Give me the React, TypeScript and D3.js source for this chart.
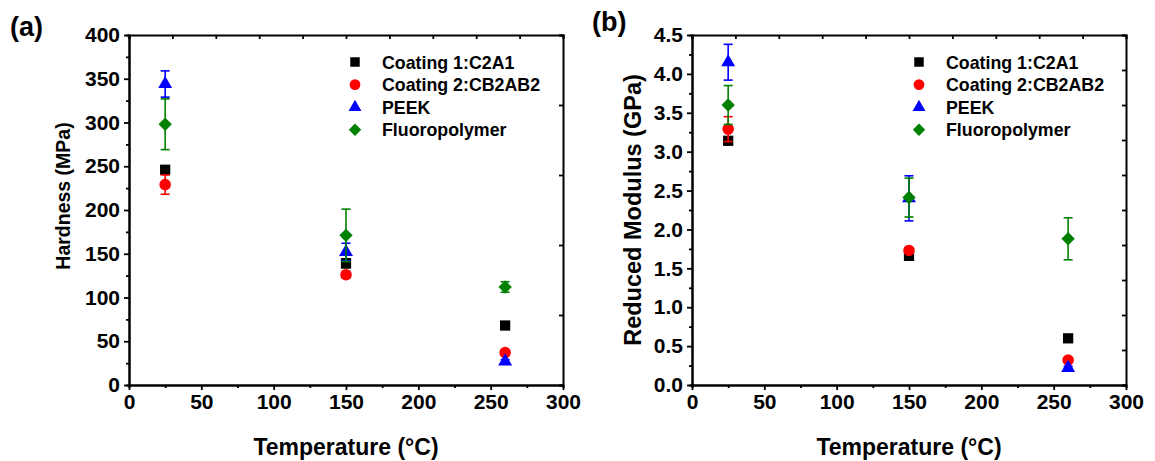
import React, { useRef, useEffect } from "react";
import * as d3 from "d3";

// temperatures (°C)
const temps = [25, 150, 260];
const seriesNames = ["Coating 1:C2A1", "Coating 2:CB2AB2", "PEEK", "Fluoropolymer"];
const seriesColors = ["#000000", "#ff0000", "#0000ff", "#008000"];

// hardness (MPa) and standard deviations
const hardC1 = [246, 139, 68];
const hardC1Err = [4, 5, 3];
const hardC2 = [229, 126, 37];
const hardC2Err = [11, 4, 3];
const hardPeek = [344, 152, 27];
const hardPeekErr = [15, 10, 2];
const hardFluoro = [298, 171, 112];
const hardFluoroErr = [29, 30, 6];

// reduced modulus (GPa) and standard deviations
const modC1 = [3.14, 1.66, 0.6];
const modC1Err = [0.05, 0.03, 0.03];
const modC2 = [3.29, 1.73, 0.32];
const modC2Err = [0.16, 0.03, 0.02];
const modPeek = [4.15, 2.4, 0.22];
const modPeekErr = [0.23, 0.29, 0.02];
const modFluoro = [3.6, 2.41, 1.88];
const modFluoroErr = [0.25, 0.25, 0.27];

const xTicks = [0, 50, 100, 150, 200, 250, 300];
const hardTicks = [0, 50, 100, 150, 200, 250, 300, 350, 400];
const modTicks = [0, 0.5, 1, 1.5, 2, 2.5, 3, 3.5, 4, 4.5];

const FONT = "'Liberation Sans', Arial, sans-serif";

function markerPath(i, size) {
  if (i === 0) return d3.symbol(d3.symbolSquare, size)();
  if (i === 1) return d3.symbol(d3.symbolCircle, size)();
  if (i === 2) return d3.symbol(d3.symbolTriangle, size * 0.8)();
  return d3.symbol(d3.symbolSquare, size * 0.85)();
}

function Panel(props) {
  const gRef = useRef(null);
  useEffect(() => {
    const g = d3.select(gRef.current);
    g.selectAll("*").remove();
    const [x0, x1, yTop, yBot] = props.box;
    const x = d3.scaleLinear().domain([0, 300]).range([x0, x1]);
    const y = d3.scaleLinear().domain([0, props.yMax]).range([yBot, yTop]);

    // minor ticks
    const minorX = d3.range(25, 300, 50);
    const minorY = d3.range(props.yStep / 2, props.yMax, props.yStep);

    g.append("g")
      .attr("transform", `translate(0,${yBot})`)
      .call(d3.axisBottom(x).tickValues(minorX).tickSize(3).tickFormat(() => ""));
    g.append("g")
      .attr("transform", `translate(${x0},0)`)
      .call(d3.axisLeft(y).tickValues(minorY).tickSize(3).tickFormat(() => ""));
    // mirrored axes
    g.append("g")
      .attr("transform", `translate(0,${yTop})`)
      .call(d3.axisTop(x).tickValues(d3.range(0, 301, 30)).tickSize(-4).tickFormat(() => ""));
    g.append("g")
      .attr("transform", `translate(${x1},0)`)
      .call(
        d3
          .axisRight(y)
          .tickValues(d3.range(0, props.rightDiv + 1).map((k) => (k * props.yMax) / props.rightDiv))
          .tickSize(-4)
          .tickFormat(() => "")
      );
    g.append("g")
      .attr("transform", `translate(0,${yBot})`)
      .call(d3.axisBottom(x).tickValues(xTicks).tickSize(5).tickPadding(4).tickSizeOuter(0));
    g.append("g")
      .attr("transform", `translate(${x0},0)`)
      .call(
        d3
          .axisLeft(y)
          .tickValues(props.yTicks)
          .tickSize(5)
          .tickPadding(4)
          .tickSizeOuter(0)
          .tickFormat(props.fmt)
      );

    g.selectAll(".domain").attr("stroke", "#000").attr("stroke-width", 2);
    g.selectAll(".tick line").attr("stroke", "#000").attr("stroke-width", 1.8);
    g.selectAll(".tick text")
      .attr("fill", "#000")
      .style("font-family", FONT)
      .style("font-weight", "bold")
      .style("font-size", "21px");

    // error bars + markers
    props.series.forEach((s, i) => {
      const c = seriesColors[i];
      temps.forEach((t, j) => {
        const cx = x(t);
        const hi = y(s.v[j] + s.e[j]);
        const lo = y(s.v[j] - s.e[j]);
        g.append("line")
          .attr("x1", cx).attr("x2", cx).attr("y1", hi).attr("y2", lo)
          .attr("stroke", c).attr("stroke-width", 1.6);
        [hi, lo].forEach((yy) => {
          g.append("line")
            .attr("x1", cx - 4.5).attr("x2", cx + 4.5).attr("y1", yy).attr("y2", yy)
            .attr("stroke", c).attr("stroke-width", 1.6);
        });
        g.append("path")
          .attr("d", markerPath(i, 105))
          .attr("transform", `translate(${cx},${y(s.v[j])})${i === 3 ? " rotate(45)" : ""}`)
          .attr("fill", c);
      });
    });

    // legend
    seriesNames.forEach((name, i) => {
      const ly = 62 + i * 22.6;
      g.append("path")
        .attr("d", markerPath(i, 90))
        .attr("transform", `translate(${props.legendX},${ly})${i === 3 ? " rotate(45)" : ""}`)
        .attr("fill", seriesColors[i]);
      g.append("text")
        .attr("x", props.legendX + 27)
        .attr("y", ly + 6.5)
        .style("font-family", FONT)
        .style("font-weight", "bold")
        .style("font-size", "17.8px")
        .text(name);
    });

    // axis titles
    g.append("text")
      .attr("x", (x0 + x1) / 2)
      .attr("y", 455)
      .attr("text-anchor", "middle")
      .style("font-family", FONT)
      .style("font-weight", "bold")
      .style("font-size", "23px")
      .text("Temperature (°C)");
    g.append("text")
      .attr("transform", `translate(${props.yLabelX},${props.yLabelY}) rotate(-90)`)
      .attr("text-anchor", "middle")
      .style("font-family", FONT)
      .style("font-weight", "bold")
      .style("font-size", props.yLabelSize + "px")
      .text(props.yLabel);
    g.append("text")
      .attr("x", props.tagX)
      .attr("y", props.tagY)
      .style("font-family", FONT)
      .style("font-weight", "bold")
      .style("font-size", "27px")
      .text(props.tag);
  }, [props]);
  return <g ref={gRef}></g>;
}

export default function App() {
  const hardSeries = [
    { v: hardC1, e: hardC1Err },
    { v: hardC2, e: hardC2Err },
    { v: hardPeek, e: hardPeekErr },
    { v: hardFluoro, e: hardFluoroErr },
  ];
  const modSeries = [
    { v: modC1, e: modC1Err },
    { v: modC2, e: modC2Err },
    { v: modPeek, e: modPeekErr },
    { v: modFluoro, e: modFluoroErr },
  ];
  return (
    <svg
      width={1155}
      height={461}
      style={{ position: "absolute", left: 0, top: 0, background: "#fff" }}
    >
      <Panel
        box={[129, 563, 35, 385]}
        yMax={400}
        yStep={50}
        rightDiv={5}
        yTicks={hardTicks}
        fmt={(d) => String(d)}
        series={hardSeries}
        legendX={355}
        yLabel="Hardness (MPa)"
        yLabelX={70}
        yLabelY={196}
        yLabelSize={19.5}
        tag="(a)"
        tagX={10}
        tagY={36}
      />
      <Panel
        box={[692, 1126, 35, 385]}
        yMax={4.5}
        yStep={0.5}
        rightDiv={10}
        yTicks={modTicks}
        fmt={(d) => d.toFixed(1)}
        series={modSeries}
        legendX={919}
        yLabel="Reduced Modulus (GPa)"
        yLabelX={641}
        yLabelY={210}
        yLabelSize={23.5}
        tag="(b)"
        tagX={592}
        tagY={31}
      />
    </svg>
  );
}
